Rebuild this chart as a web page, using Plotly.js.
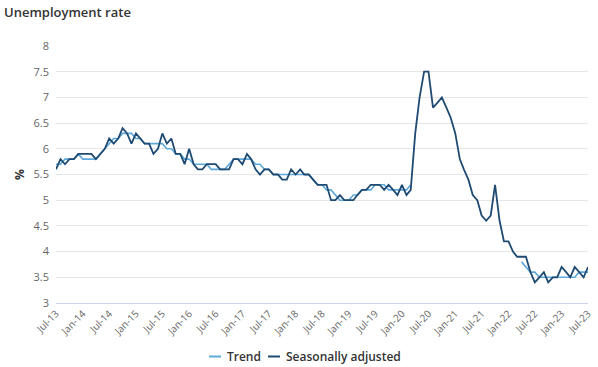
<!DOCTYPE html>
<html>
<head>
<meta charset="utf-8">
<script src="https://cdn.plot.ly/plotly-3.0.1.min.js"></script>
<style>
  html, body { margin: 0; padding: 0; background: #ffffff; }
  #chart { width: 598px; height: 367px; }
</style>
</head>
<body>
<div id="chart"></div>
<script>
// Monthly categories: Jul-2013 .. Jul-2023
var startYear = 2013, startMonth = 7, monthCount = 121;
var months = [];
for (var i = 0; i < monthCount; i++) {
  var mm = startMonth - 1 + i;
  var y = startYear + Math.floor(mm / 12);
  var m = (mm % 12) + 1;
  months.push(y + '-' + (m < 10 ? '0' + m : m) + '-01');
}

// Seasonally adjusted (%)
var seasonallyAdjusted = [
  5.6,5.8,5.7,5.8,5.8,5.9,5.9,5.9,5.9,5.8,
  5.9,6.0,6.2,6.1,6.2,6.4,6.3,6.1,6.3,6.2,
  6.1,6.1,5.9,6.0,6.3,6.1,6.2,5.9,5.9,5.7,
  6.0,5.7,5.6,5.6,5.7,5.7,5.7,5.6,5.6,5.6,
  5.8,5.8,5.7,5.9,5.8,5.6,5.5,5.6,5.6,5.5,
  5.5,5.4,5.4,5.6,5.5,5.6,5.5,5.5,5.4,5.3,
  5.3,5.3,5.0,5.0,5.1,5.0,5.0,5.0,5.1,5.2,
  5.2,5.3,5.3,5.3,5.2,5.3,5.2,5.1,5.3,5.1,
  5.2,6.3,7.0,7.5,7.5,6.8,6.9,7.0,6.8,6.6,
  6.3,5.8,5.6,5.4,5.1,5.0,4.7,4.6,4.7,5.3,
  4.6,4.2,4.2,4.0,3.9,3.9,3.9,3.6,3.4,3.5,
  3.6,3.4,3.5,3.5,3.7,3.6,3.5,3.7,3.6,3.5,3.7
];

// Trend (%) - suspended Apr-2020 .. Mar-2022
var trend = [
  5.7,5.7,5.8,5.8,5.8,5.9,5.8,5.8,5.8,5.8,
  5.9,6.0,6.1,6.2,6.2,6.3,6.3,6.3,6.2,6.2,
  6.1,6.1,6.1,6.1,6.1,6.0,6.0,5.9,5.9,5.8,
  5.8,5.7,5.7,5.7,5.7,5.6,5.6,5.6,5.6,5.7,
  5.8,5.8,5.8,5.8,5.8,5.7,5.7,5.6,5.6,5.5,
  5.5,5.5,5.5,5.5,5.5,5.5,5.5,5.5,5.4,5.3,
  5.3,5.2,5.2,5.1,5.0,5.0,5.0,5.1,5.1,5.2,
  5.2,5.2,5.3,5.3,5.3,5.2,5.2,5.2,5.2,5.2,
  5.3,
  null,null,null,null,null,null,null,null,null,null,null,null,
  null,null,null,null,null,null,null,null,null,null,null,null,
  3.8,3.7,3.6,3.6,3.5,3.5,3.5,3.5,3.5,3.5,3.5,3.5,3.5,3.6,3.6,3.6
];

// X tick labels
var tickDates = [];
var tickLabels = ['Jul-13','Jan-14','Jul-14','Jan-15','Jul-15','Jan-16','Jul-16','Jan-17','Jul-17','Jan-18','Jul-18',
                  'Jan-19','Jul-19','Jan-20','Jul-20','Jan-21','Jul-21','Jan-22','Jul-22','Jan-23','Jul-23'];
for (var k = 0; k < tickLabels.length; k++) tickDates.push(months[k * 6]);

var seriesNames = ['Trend', 'Seasonally adjusted'];
var lightBlue = '#5fa8dc';
var darkBlue = '#1f4a72';

var traces = [
  { x: months, y: trend, type: 'scatter', mode: 'lines', name: seriesNames[0],
    line: { color: lightBlue, width: 1.6 }, connectgaps: false, showlegend: false },
  { x: months, y: seasonallyAdjusted, type: 'scatter', mode: 'lines', name: seriesNames[1],
    line: { color: darkBlue, width: 1.8 }, showlegend: false }
];

// plot area pixels
var L = 56, R = 10, T = 46, B = 64, W = 598, H = 367;
var pw = W - L - R, ph = H - T - B;
function px(xp) { return (xp - L) / pw; }
function py(yp) { return (H - B - yp) / ph; }

var legendY = 356.5;
var legendFont = { family: 'Open Sans, sans-serif', size: 12, color: '#333333', weight: 600 };
var layout = {
  width: W, height: H,
  margin: { l: L, r: R, t: T, b: B },
  paper_bgcolor: '#ffffff', plot_bgcolor: '#ffffff',
  font: { family: 'Open Sans, sans-serif', color: '#666666' },
  title: { text: 'Unemployment rate', x: 4 / W, xanchor: 'left', xref: 'container',
           y: 1 - 12 / H, yanchor: 'middle', yref: 'container',
           font: { family: 'Open Sans, sans-serif', size: 13, color: '#333333', weight: 600 } },
  xaxis: {
    type: 'date', range: [months[0], months[monthCount - 1]],
    tickvals: tickDates, ticktext: tickLabels, tickangle: -45,
    tickfont: { size: 10, color: '#666666' },
    showgrid: false, showline: true, linecolor: '#ccd6eb', linewidth: 1,
    ticks: '', zeroline: false, fixedrange: true
  },
  yaxis: {
    range: [3, 8], dtick: 0.5, tick0: 3,
    tickfont: { size: 11, color: '#666666' },
    showgrid: true, gridcolor: '#e6e6e6', gridwidth: 1,
    showline: false, zeroline: false, ticks: '', ticklabelstandoff: 6,
    title: { text: '%', standoff: 6, font: { size: 12, color: '#333333', weight: 'bold' } }
  },
  shapes: [
    { type: 'line', xref: 'paper', yref: 'paper', x0: px(209), x1: px(221), y0: py(legendY), y1: py(legendY),
      line: { color: lightBlue, width: 2 } },
    { type: 'line', xref: 'paper', yref: 'paper', x0: px(268), x1: px(280), y0: py(legendY), y1: py(legendY),
      line: { color: darkBlue, width: 2 } }
  ],
  annotations: [
    { xref: 'paper', yref: 'paper', x: px(225), y: py(legendY), xanchor: 'left', yanchor: 'middle',
      text: seriesNames[0], showarrow: false, font: legendFont },
    { xref: 'paper', yref: 'paper', x: px(284), y: py(legendY), xanchor: 'left', yanchor: 'middle',
      text: seriesNames[1], showarrow: false, font: legendFont }
  ],
  showlegend: false
};

Plotly.newPlot('chart', traces, layout, { displayModeBar: false, staticPlot: true });
</script>
</body>
</html>
